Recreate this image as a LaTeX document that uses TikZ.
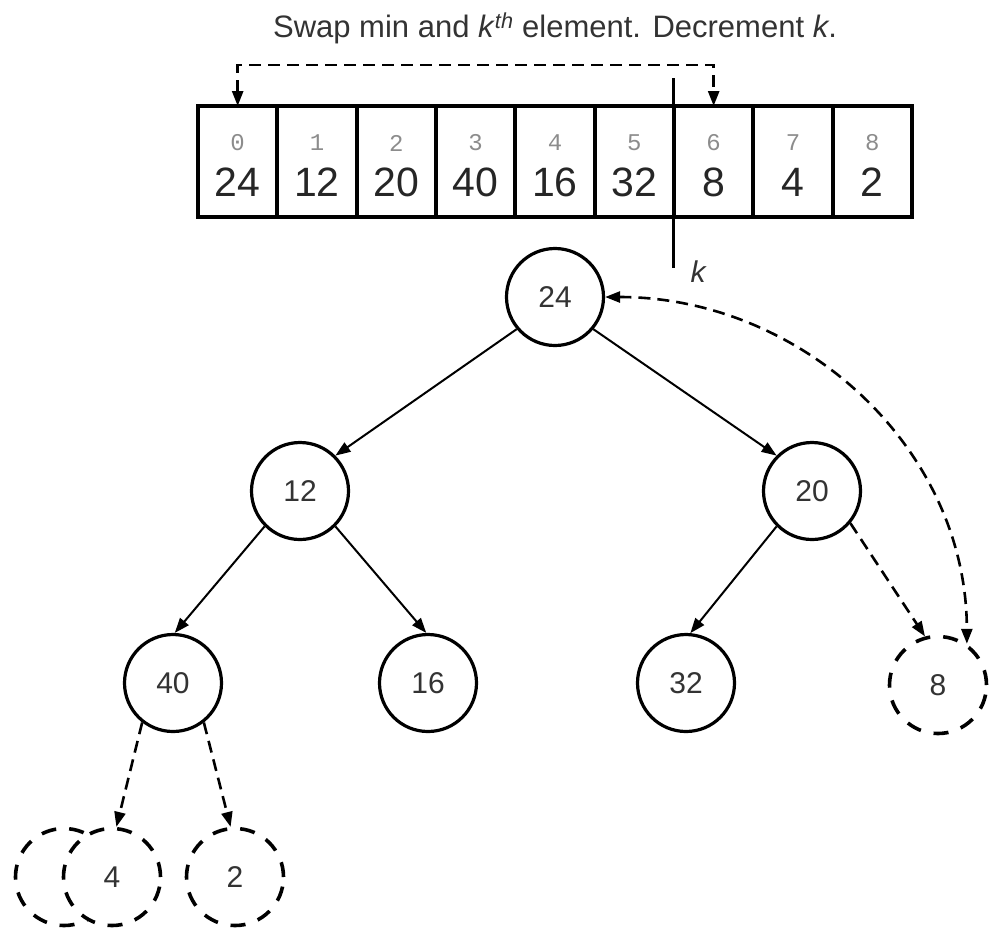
\documentclass[tikz,border=0pt]{standalone}
\usepackage{fontspec}
\setmainfont{Liberation Sans}
\newfontfamily\idxfont{Liberation Mono}
\usetikzlibrary{arrows.meta,calc}

\begin{document}
\begin{tikzpicture}[x=1pt,y=-1pt,
    >={Triangle[length=15pt,width=11pt]},
    cellbox/.style={draw,line width=3.8pt,minimum width=79.33pt,minimum height=111pt,inner sep=0pt,outer sep=0pt},
    idxtext/.style={inner sep=0pt,text=black!45,font=\idxfont\fontsize{24}{28}\selectfont},
    valtext/.style={inner sep=0pt,text=black!85,font=\fontsize{41}{48}\selectfont},
    heapnode/.style={circle,draw,line width=3.2pt,fill=white,minimum size=97pt,inner sep=0pt,text=black!80,font=\fontsize{30}{36}\selectfont},
    gone/.style={heapnode,line width=3.6pt,dash pattern=on 15pt off 13pt},
    edge/.style={line width=2pt,->},
    move/.style={line width=2.6pt,dash pattern=on 12pt off 7pt}]
      \useasboundingbox (0,0) rectangle (992,927);
      \node[text=black!80,font=\fontsize{31}{37}\selectfont] (caption) at (555,28)
        {Swap min and \textit{k}\textsuperscript{\textit{th}} element. Decrement \textit{k}.};
      % the array
      \foreach \v [count=\i from 0] in {24,12,20,40,16,32,8,4,2} {
        \node[cellbox] (c\i) at ({198+79.33*(\i+0.5)},161.5) {};
        \node[idxtext] (i\i) at ($(c\i.center)+(0,-18.5)$) {\i};
        \node[valtext] (v\i) at ($(c\i.center)+(0,20.5)$) {\v};
      }
      \coordinate (swaptop) at ($(c6.north)+(0,-41)$);
      \draw[move,<->] (c0.north) |- (swaptop) -- (c6.north);
      \coordinate (ktop) at ($(c5.north east)+(0,-28)$);
      \coordinate (kbot) at ($(c5.south east)+(0,51)$);
      \draw[line width=3pt] (ktop) -- (kbot);
      \node[font=\fontsize{30}{36}\selectfont\itshape,text=black!80] (klab) at (698,272) {k};
      % the heap
      \node[heapnode] (n24) at (555,297) {24};
      \node[heapnode] (n12) at (300,491) {12};
      \node[heapnode] (n20) at (812,491) {20};
      \node[heapnode] (n40) at (173,683) {40};
      \node[heapnode] (n16) at (428,683) {16};
      \node[heapnode] (n32) at (686,683) {32};
      \node[gone] (n8) at (938,685) {8};
      \node[gone] (ghost) at (64,877) {};
      \node[gone] (n4) at (112,877) {4};
      \node[gone] (n2) at (235,877) {2};
      \draw[edge] (n24.220) -- (n12.45);
      \draw[edge] (n24.-40) -- (n20.135);
      \draw[edge] (n12.225) -- (n40.88);
      \draw[edge] (n12.-45) -- (n16.92);
      \draw[edge] (n20.225) -- (n32.85);
      \draw[move,->] (n20.-40) -- (n8.105);
      \draw[move,->] (n40.232) -- (n4.85);
      \draw[move,->] (n40.308) -- (n2.95);
      \draw[move,<->] (n24.east) to[out=0,in=90] (n8.55);
    \end{tikzpicture}
\end{document}
